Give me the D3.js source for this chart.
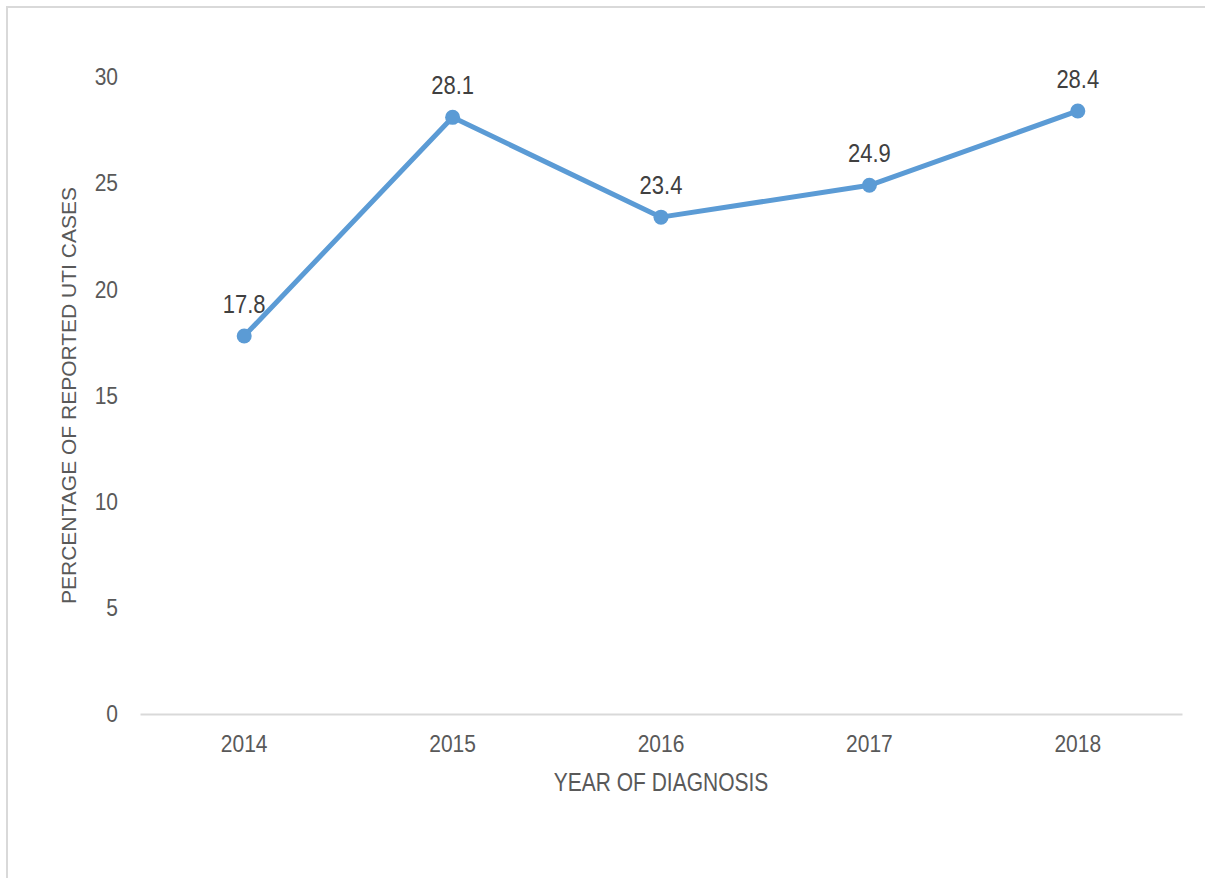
<!DOCTYPE html>
<html>
<head>
<meta charset="utf-8">
<script src="https://cdn.jsdelivr.net/npm/d3@7"></script>
<style>
  body { margin: 0; background: #fff; }
  svg { display: block; font-family: "Liberation Sans", Arial, sans-serif; }
  .tall { transform-box: fill-box; transform-origin: center; }
</style>
</head>
<body>
<script>
var years = ["2014", "2015", "2016", "2017", "2018"];
var percents = [17.8, 28.1, 23.4, 24.9, 28.4];
var yTicks = [0, 5, 10, 15, 20, 25, 30];

const w = 1205,
    h = 878;
const padLeft = 140, padRight = 1182, padTop = 77, padBottom = 714;

const svg = d3.select("body")
    .append("svg")
    .attr("width", w)
    .attr("height", h);

// chart frame (only top and left edges show in the picture)
svg.append("rect")
    .attr("x", 7)
    .attr("y", 7)
    .attr("width", w + 20)
    .attr("height", h + 20)
    .attr("fill", "#fff")
    .attr("stroke", "#d9d9d9")
    .attr("stroke-width", 2);

var xScale = d3.scaleBand()
    .domain(years)
    .range([padLeft, padRight]);

var yScale = d3.scaleLinear()
    .domain([0, 30])
    .range([padBottom, padTop]);

var xAxis = d3.axisBottom(xScale).tickSize(0).tickPadding(22);
var yAxis = d3.axisLeft(yScale).tickValues(yTicks).tickSize(0).tickPadding(22);

var gx = svg.append("g")
    .attr("transform", "translate(0," + padBottom + ")")
    .call(xAxis);
gx.select(".domain").attr("stroke", "#d9d9d9").attr("stroke-width", 2);
gx.selectAll("text")
    .attr("class", "tall")
    .style("transform", "scaleY(1.15)")
    .attr("fill", "#595959")
    .attr("font-size", 21)
    .attr("font-family", "Liberation Sans, Arial, sans-serif");

var gy = svg.append("g")
    .attr("transform", "translate(" + padLeft + ",0)")
    .call(yAxis);
gy.select(".domain").remove();
gy.selectAll("text")
    .attr("class", "tall")
    .style("transform", "scaleY(1.15)")
    .attr("fill", "#595959")
    .attr("font-size", 21)
    .attr("font-family", "Liberation Sans, Arial, sans-serif");

var cx = (d) => xScale(d) + xScale.bandwidth() / 2;

var line = d3.line()
    .x((d, i) => cx(years[i]))
    .y((d) => yScale(d));

svg.append("path")
    .datum(percents)
    .attr("d", line)
    .attr("fill", "none")
    .attr("stroke", "#5b9bd5")
    .attr("stroke-width", 5)
    .attr("stroke-linejoin", "round");

svg.selectAll("circle")
    .data(percents)
    .enter()
    .append("circle")
    .attr("cx", (d, i) => cx(years[i]))
    .attr("cy", (d) => yScale(d))
    .attr("r", 7.5)
    .attr("fill", "#5b9bd5");

svg.selectAll(".lbl")
    .data(percents)
    .enter()
    .append("text")
    .attr("class", "lbl tall")
    .style("transform", "scaleY(1.2)")
    .attr("x", (d, i) => cx(years[i]))
    .attr("y", (d) => yScale(d) - 25)
    .attr("text-anchor", "middle")
    .attr("font-size", 22)
    .attr("fill", "#404040")
    .text((d) => d.toFixed(1));

svg.append("text")
    .attr("class", "tall")
    .style("transform", "scaleY(1.2)")
    .attr("x", (padLeft + padRight) / 2)
    .attr("y", 790)
    .attr("text-anchor", "middle")
    .attr("font-size", 21)
    .attr("fill", "#595959")
    .text("YEAR OF DIAGNOSIS");

svg.append("text")
    .attr("transform", "translate(76," + (padBottom + padTop) / 2 + ") rotate(-90)")
    .attr("text-anchor", "middle")
    .attr("font-size", 21)
    .attr("fill", "#595959")
    .text("PERCENTAGE OF REPORTED UTI CASES");
</script>
</body>
</html>
